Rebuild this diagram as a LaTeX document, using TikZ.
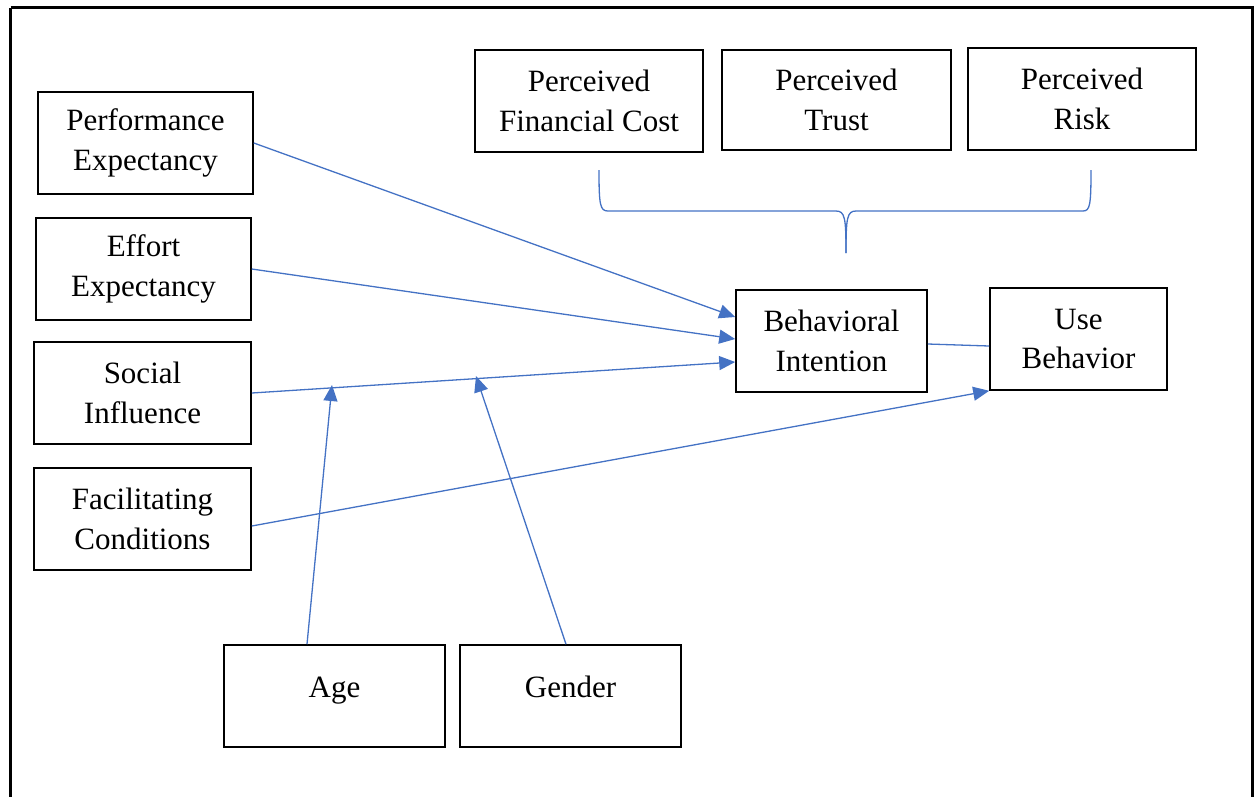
\documentclass[tikz,border=0pt]{standalone}
\usepackage{fontspec}
\setmainfont{Liberation Serif}
\usetikzlibrary{arrows.meta}
\definecolor{lblue}{HTML}{4472C4}
\tikzset{
  box/.style={draw=black, line width=1.6pt, fill=white, inner sep=0pt, align=center,
    font=\fontsize{31pt}{39.5pt}\selectfont},
  onebox/.style={box, text height=22pt, text depth=20pt},
  link/.style={draw=lblue, line width=1.3pt},
  arr/.style={link, -{Triangle[length=16pt,width=14pt]}}
}
\begin{document}
\begin{tikzpicture}[x=1pt,y=-1pt]
\useasboundingbox (0,0) rectangle (1254,796);
\draw[line width=2.6pt] (10.5,7.5) -- (10.5,820) (10.5,7.5) -- (1252.5,7.5) -- (1252.5,820);
% boxes
\node[box, minimum width=215pt, minimum height=102pt] (pe) at (145.5,143) {Performance\\Expectancy};
\node[box, minimum width=215pt, minimum height=102pt] (ee) at (143.5,269) {Effort\\Expectancy};
\node[box, minimum width=217pt, minimum height=102pt] (si) at (142.5,393) {Social\\Influence};
\node[box, minimum width=217pt, minimum height=102pt] (fc) at (142.5,519) {Facilitating\\Conditions};
\node[onebox, minimum width=221pt, minimum height=102pt] (age) at (334.5,696) {Age};
\node[onebox, minimum width=221pt, minimum height=102pt] (gen) at (570.5,696) {Gender};
\node[box, minimum width=228pt, minimum height=102pt] (pfc) at (589,101) {Perceived\\Financial Cost};
\node[box, minimum width=229pt, minimum height=100pt] (pt) at (836.5,100) {Perceived\\Trust};
\node[box, minimum width=228pt, minimum height=102pt] (pr) at (1082,99) {Perceived\\Risk};
\node[box, minimum width=191pt, minimum height=102pt] (bi) at (831.5,341) {Behavioral\\Intention};
\node[box, minimum width=177pt, minimum height=102pt] (ub) at (1078.5,339) {Use\\Behavior};
% coordinates on Social Influence line
\coordinate (ageT) at (332,385);
\coordinate (genT) at (476,376);
% brace
\coordinate (bL) at (599,170);
\coordinate (bM) at (846,253);
\coordinate (bR) at (1091,170);
\draw[link] (bL) .. controls (599,205) and (600,211) .. (608,211) -- (836,211)
  .. controls (845,211) and (846,218) .. (bM);
\draw[link] (bM) .. controls (846,218) and (847,211) .. (856,211) -- (1083,211)
  .. controls (1090,211) and (1091,205) .. (bR);
% arrows
\draw[arr] (pe.east) -- (bi.west |- 0,317);
\draw[arr] (ee.east) -- (bi.west |- 0,339);
\draw[arr] (si.east) -- (bi.west |- 0,362);
\draw[arr] (fc.east |- 0,526) -- (ub.south west);
\draw[link] (bi.east |- 0,344) -- (ub.west |- 0,346);
\draw[arr] (age.north -| 307,0) -- (ageT);
\draw[arr] (gen.north -| 566,0) -- (genT);
\end{tikzpicture}
\end{document}
